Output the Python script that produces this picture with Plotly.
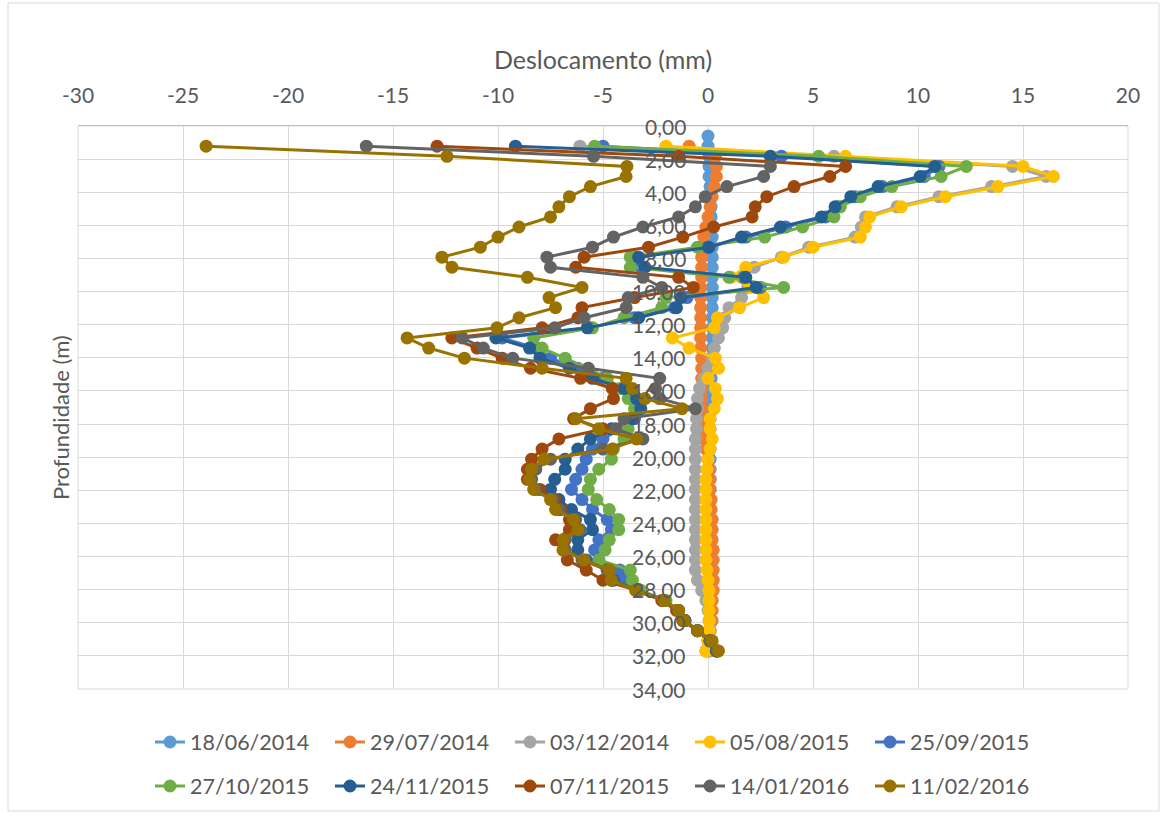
import plotly.graph_objects as go

# Depths (m) of the readings
depth = [1.22, 1.83, 2.44, 3.05, 3.66, 4.27, 4.88, 5.49, 6.10, 6.71,
         7.32, 7.92, 8.53, 9.14, 9.75, 10.36, 10.97, 11.58, 12.19, 12.80,
         13.41, 14.02, 14.63, 15.24, 15.85, 16.46, 17.07, 17.68, 18.29, 18.90,
         19.51, 20.12, 20.73, 21.34, 21.95, 22.56, 23.16, 23.77, 24.38, 24.99,
         25.60, 26.21, 26.82, 27.43, 28.04, 28.65, 29.26, 29.87, 30.48, 31.09,
         31.70]
depth_top = [0.61]

s_18_06_2014 = [0.0, 0.0, 0.05, 0.05, 0.05, 0.1, 0.1, 0.15, 0.15, 0.2,
                0.2, 0.2, 0.2, 0.2, 0.2, 0.2, 0.2, 0.2, 0.2, 0.2,
                0.2, 0.2, 0.15, 0.15, 0.15, 0.1, 0.1, 0.1, 0.1, 0.1,
                0.1, 0.1, 0.1, 0.1, 0.1, 0.1, 0.1, 0.1, 0.1, 0.1,
                0.1, 0.1, 0.1, 0.1, 0.1, 0.1, 0.1, 0.05, 0.05, 0.05,
                0.0, 0.0]
s_29_07_2014 = [-0.9, 0.35, 0.4, 0.4, 0.3, 0.2, 0.1, 0.0, -0.1, -0.2,
                -0.25, -0.3, -0.3, -0.3, -0.35, -0.35, -0.35, -0.35, -0.35, -0.35,
                -0.35, -0.3, -0.3, -0.3, -0.3, -0.3, -0.3, -0.3, -0.25, -0.2,
                -0.1, 0.0, 0.05, 0.1, 0.1, 0.15, 0.15, 0.2, 0.2, 0.2,
                0.25, 0.25, 0.25, 0.25, 0.25, 0.2, 0.2, 0.2, 0.1, 0.0,
                -0.1]
s_03_12_2014 = [-6.1, 6.0, 14.5, 16.1, 13.5, 11.0, 9.0, 7.5, 7.3, 7.0,
                4.8, 3.5, 2.2, 1.7, 1.9, 1.6, 1.0, 0.8, 0.7, 0.5,
                0.3, 0.2, 0.0, -0.2, -0.4, -0.5, -0.5, -0.55, -0.55, -0.6,
                -0.6, -0.6, -0.6, -0.6, -0.6, -0.6, -0.6, -0.6, -0.6, -0.6,
                -0.6, -0.6, -0.6, -0.5, -0.3, -0.1, 0.0, 0.1, 0.1, 0.1,
                0.1]
s_05_08_2015 = [-2.0, 6.55, 15.0, 16.45, 13.8, 11.3, 9.2, 7.7, 7.5, 7.25,
                5.0, 3.6, 1.8, 1.1, 2.0, 2.65, 1.5, 0.45, 0.3, -1.7,
                -0.9, 0.35, 0.5, 0.0, 0.35, 0.45, 0.3, 0.1, 0.1, 0.2,
                0.1, 0.0, -0.05, -0.1, -0.1, -0.1, -0.1, -0.1, -0.1, -0.1,
                -0.1, -0.1, -0.05, 0.0, 0.05, 0.05, 0.05, 0.05, 0.05, 0.0,
                -0.1]
s_25_09_2015 = [-5.0, 3.5, 11.0, 10.3, 8.3, 7.0, 6.2, 5.6, 3.7, 1.8,
                0.0, -3.4, -3.2, 1.7, 2.5, -1.0, -1.6, -3.5, -5.6, -9.8,
                -8.2, -7.5, -6.2, -5.0, -4.0, -3.5, -3.3, -3.5, -4.2, -5.0,
                -5.5, -5.8, -6.0, -6.3, -6.5, -6.0, -5.5, -4.8, -4.6, -5.2,
                -5.4, -5.2, -4.2, -4.0, -3.3, -2.1, -1.4, -1.1, -0.5, 0.1,
                0.4]
s_27_10_2015 = [-5.4, 5.27, 12.3, 11.1, 8.75, 7.25, 6.3, 6.0, 4.5, 2.7,
                -0.5, -3.7, -3.7, 1.0, 3.6, -2.0, -2.2, -4.0, -5.5, -8.3,
                -7.9, -6.8, -5.7, -4.8, -4.2, -3.8, -3.5, -3.6, -3.8, -4.0,
                -4.5, -4.6, -5.2, -5.6, -5.7, -5.3, -4.7, -4.25, -4.25, -4.7,
                -4.9, -5.2, -3.7, -3.6, -3.2, -2.0, -1.4, -1.1, -0.5, 0.1,
                0.4]
s_24_11_2015 = [-9.17, 2.97, 10.8, 10.1, 8.1, 6.8, 6.05, 5.4, 3.45, 1.6,
                0.04, -3.3, -3.0, 1.8, 2.3, -1.3, -1.5, -3.3, -5.75, -10.1,
                -8.5, -8.0, -6.6, -5.5, -4.0, -3.4, -3.2, -3.6, -4.6, -5.6,
                -6.2, -6.8, -6.8, -7.3, -7.5, -7.1, -6.5, -5.6, -5.5, -6.2,
                -6.2, -5.8, -4.8, -4.5, -3.4, -2.1, -1.4, -1.1, -0.5, 0.1,
                0.4]
s_07_11_2015 = [-12.9, -1.4, 6.55, 5.8, 4.1, 2.8, 2.25, 2.1, 0.27, -1.2,
                -2.83, -5.9, -6.3, -1.4, -0.7, -3.5, -6.0, -6.2, -7.9, -12.2,
                -11.0, -9.8, -8.45, -6.07, -4.56, -4.5, -5.6, -6.4, -5.0, -7.1,
                -7.9, -8.4, -8.6, -8.6, -8.0, -7.3, -7.0, -6.6, -6.6, -7.26,
                -6.9, -6.7, -5.8, -5.0, -3.4, -2.2, -1.5, -1.2, -0.5, 0.1,
                0.45]
s_14_01_2016 = [-16.27, -5.45, 2.97, 2.65, 0.9, -0.13, -0.6, -1.4, -3.1, -4.5,
                -5.5, -7.67, -7.5, -3.1, -2.2, -3.8, -3.9, -5.9, -7.3, -11.7,
                -10.7, -9.3, -5.7, -2.3, -2.5, -2.3, -0.6, -4.0, -4.4, -3.1,
                -5.0, -7.5, -8.2, -8.4, -8.2, -7.4, -7.1, -6.3, -6.1, -6.8,
                -6.8, -6.0, -4.8, -4.6, -3.4, -2.1, -1.4, -1.1, -0.5, 0.1,
                0.45]
s_11_02_2016 = [-23.9, -12.43, -3.86, -3.9, -5.6, -6.6, -7.1, -7.5, -9.0, -10.0,
                -10.84, -12.67, -12.19, -8.6, -6.0, -7.57, -7.26, -9.0, -10.05, -14.33,
                -13.3, -11.6, -7.9, -3.9, -3.6, -3.0, -1.24, -6.3, -5.2, -3.4,
                -4.56, -7.8, -8.4, -8.5, -8.3, -7.5, -7.26, -6.4, -6.2, -6.9,
                -6.9, -5.9, -4.7, -4.6, -3.45, -2.1, -1.4, -1.15, -0.5, 0.2,
                0.5]

names = ["18/06/2014", "29/07/2014", "03/12/2014", "05/08/2015", "25/09/2015",
         "27/10/2015", "24/11/2015", "07/11/2015", "14/01/2016", "11/02/2016"]
values = [s_18_06_2014, s_29_07_2014, s_03_12_2014, s_05_08_2015, s_25_09_2015,
          s_27_10_2015, s_24_11_2015, s_07_11_2015, s_14_01_2016, s_11_02_2016]
colors = ["#5B9BD5", "#ED7D31", "#A5A5A5", "#FFC000", "#4472C4",
          "#70AD47", "#255E91", "#9E480E", "#636363", "#997300"]

x_ticks = [-30, -25, -20, -15, -10, -5, 0, 5, 10, 15, 20]
x_ticktext = ["-30", "-25", "-20", "-15", "-10", "-5", "0", "5", "10", "15", "20"]
y_ticks = [0, 2, 4, 6, 8, 10, 12, 14, 16, 18, 20, 22, 24, 26, 28, 30, 32, 34]
y_ticktext = ["0,00", "2,00", "4,00", "6,00", "8,00", "10,00", "12,00", "14,00", "16,00",
              "18,00", "20,00", "22,00", "24,00", "26,00", "28,00", "30,00", "32,00", "34,00"]
y_axis_crossing = 0  # vertical axis crosses the horizontal axis at x = 0

FONT = "Lato, 'Open Sans', sans-serif"
TXT = "#595959"

fig = go.Figure()
for i, (nm, vals, col) in enumerate(zip(names, values, colors)):
    ys = (depth_top + depth) if len(vals) == len(depth) + 1 else depth
    fig.add_trace(go.Scatter(
        x=vals, y=ys, name=nm, mode="lines+markers",
        line=dict(color=col, width=3),
        marker=dict(color=col, size=13, symbol="circle"),
        legend="legend" if i < 5 else "legend2",
    ))

W, H = 1166, 816
L, R, T, B = 78, 38, 126, 127
pw, ph = W - L - R, H - T - B

def px_x(p):
    return (p - L) / pw

def px_y(p):
    return (H - B - p) / ph

# y-axis tick labels, drawn next to the axis crossing at x = 0
y_labels = [dict(text=t, x=y_axis_crossing, y=v, xref="x", yref="y",
                 xanchor="right", yanchor="middle", xshift=-20, showarrow=False,
                 font=dict(size=21, color=TXT, family=FONT))
            for v, t in zip(y_ticks, y_ticktext)]

fig.update_layout(
    width=W, height=H,
    margin=dict(l=L, r=R, t=T, b=B, autoexpand=False),
    paper_bgcolor="white", plot_bgcolor="white",
    font=dict(family=FONT, color=TXT, size=20),
    xaxis=dict(
        range=[-30, 20], side="top", tickvals=x_ticks, ticktext=x_ticktext,
        showgrid=True, gridcolor="#D9D9D9", gridwidth=1, zeroline=False,
        showline=True, linecolor="#BFBFBF", linewidth=1, ticks="",
        tickfont=dict(size=21, color=TXT, family=FONT),
        ticklabelstandoff=14,
        title=dict(text="Deslocamento (mm)", font=dict(size=25, color=TXT, family=FONT), standoff=4),
        automargin=False, fixedrange=True,
    ),
    yaxis=dict(
        range=[34, 0], tickvals=y_ticks, showticklabels=False,
        showgrid=True, gridcolor="#D9D9D9", gridwidth=1, zeroline=False,
        showline=False, ticks="",
        automargin=False, fixedrange=True,
    ),
    legend=dict(
        orientation="h", x=px_x(600), xanchor="center", y=px_y(742), yanchor="middle",
        font=dict(size=21.5, color=TXT, family=FONT), entrywidth=135, entrywidthmode="pixels",
        bgcolor="rgba(0,0,0,0)", itemclick=False,
    ),
    legend2=dict(
        orientation="h", x=px_x(600), xanchor="center", y=px_y(786), yanchor="middle",
        font=dict(size=21.5, color=TXT, family=FONT), entrywidth=135, entrywidthmode="pixels",
        bgcolor="rgba(0,0,0,0)", itemclick=False,
    ),
    showlegend=True,
    annotations=y_labels + [dict(
        text="Profundidade (m)", textangle=-90, xref="paper", yref="paper",
        x=px_x(60), y=px_y(418), xanchor="center", yanchor="middle", showarrow=False,
        font=dict(size=22, color=TXT, family=FONT),
    )],
    shapes=[
        dict(type="rect", xref="paper", yref="paper", x0=0, x1=1, y0=0, y1=1,
             line=dict(color="#D9D9D9", width=1), layer="below"),
        dict(type="rect", xref="paper", yref="paper",
             x0=px_x(8), x1=px_x(1159), y0=px_y(811), y1=px_y(3),
             line=dict(color="#D9D9D9", width=1), layer="below"),
    ],
)

fig.write_html("out.html")
